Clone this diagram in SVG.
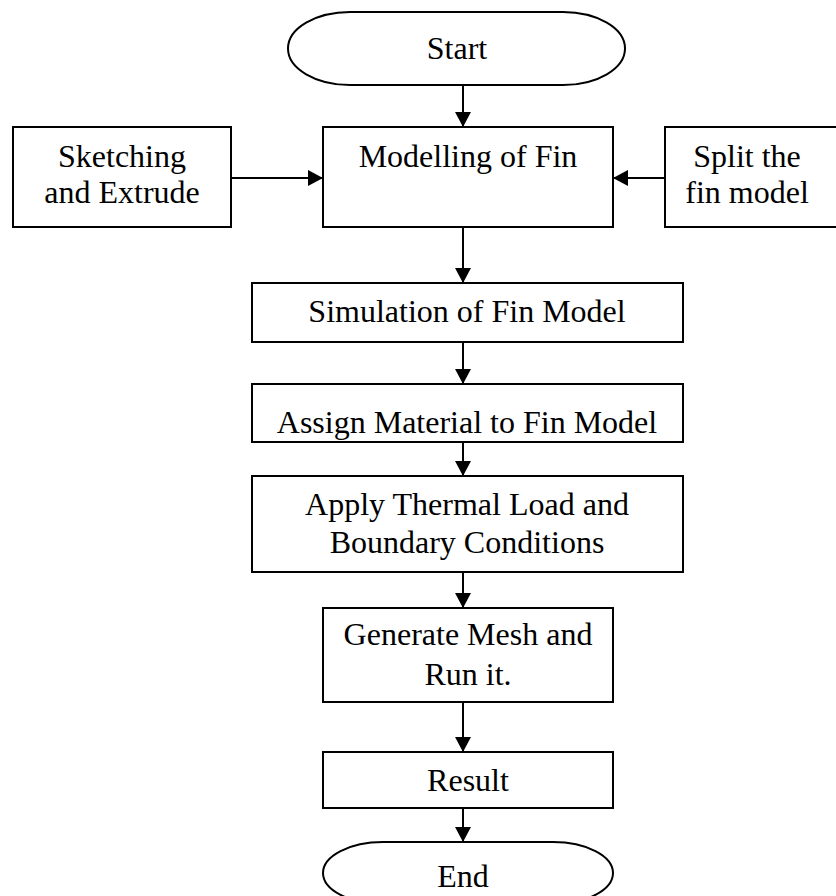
<svg xmlns="http://www.w3.org/2000/svg" width="836" height="896" viewBox="0 0 836 896">
<style>
.box{fill:#fff;stroke:#000;stroke-width:2}
.t{font-family:"Liberation Serif","Times New Roman",serif;font-size:32px;fill:#000;text-anchor:middle}
.c{stroke:#000;stroke-width:2;fill:none;marker-end:url(#ah)}
</style>
<defs>
<marker id="ah" markerUnits="userSpaceOnUse" markerWidth="16" markerHeight="16" refX="15" refY="8" orient="auto">
<path d="M0,0 L15,8 L0,16 Z" fill="#000"/>
</marker>
</defs>
<rect width="836" height="896" fill="#fff"/>
<g id="connectors">
<line class="c" x1="463" y1="85" x2="463" y2="127"/>
<line class="c" x1="231" y1="178" x2="323" y2="178"/>
<line class="c" x1="665" y1="178" x2="613" y2="178"/>
<line class="c" x1="463" y1="227" x2="463" y2="283"/>
<line class="c" x1="463" y1="342" x2="463" y2="384"/>
<line class="c" x1="463" y1="442" x2="463" y2="476"/>
<line class="c" x1="463" y1="572" x2="463" y2="608"/>
<line class="c" x1="463" y1="702" x2="463" y2="752"/>
<line class="c" x1="463" y1="808" x2="463" y2="842"/>
</g>
<g id="start">
<rect class="box" x="288" y="12" width="337" height="73" rx="62" ry="36.5"/>
<text class="t" x="457" y="59">Start</text>
</g>
<g id="modelling">
<rect class="box" x="323" y="127" width="290" height="100"/>
<text class="t" x="468" y="167">Modelling of Fin</text>
</g>
<g id="sketching">
<rect class="box" x="13" y="127" width="218" height="100"/>
<text class="t" x="122" y="167">Sketching</text>
<text class="t" x="122" y="203">and Extrude</text>
</g>
<g id="split">
<rect class="box" x="665" y="127" width="180" height="100"/>
<text class="t" x="747" y="167">Split the</text>
<text class="t" x="747" y="203">fin model</text>
</g>
<g id="simulation">
<rect class="box" x="252" y="283" width="431" height="59"/>
<text class="t" x="467" y="322">Simulation of Fin Model</text>
</g>
<g id="assign">
<rect class="box" x="252" y="384" width="431" height="58"/>
<text class="t" x="467" y="433">Assign Material to Fin Model</text>
</g>
<g id="apply">
<rect class="box" x="252" y="476" width="431" height="96"/>
<text class="t" x="467" y="515">Apply Thermal Load and</text>
<text class="t" x="467" y="553">Boundary Conditions</text>
</g>
<g id="generate">
<rect class="box" x="323" y="608" width="290" height="94"/>
<text class="t" x="468" y="645">Generate Mesh and</text>
<text class="t" x="468" y="685">Run it.</text>
</g>
<g id="result">
<rect class="box" x="323" y="752" width="290" height="56"/>
<text class="t" x="468" y="791">Result</text>
</g>
<g id="end">
<rect class="box" x="323" y="842" width="290" height="62" rx="60" ry="31"/>
<text class="t" x="463" y="887">End</text>
</g>
</svg>
